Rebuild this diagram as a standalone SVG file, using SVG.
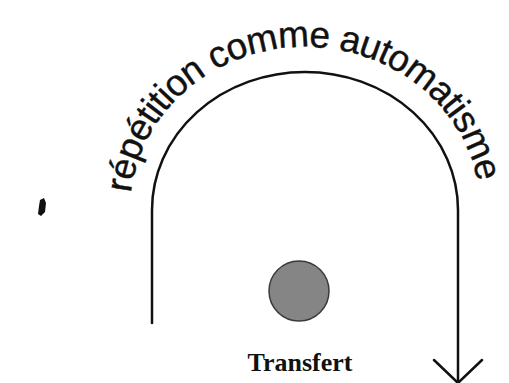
<svg xmlns="http://www.w3.org/2000/svg" width="509" height="383" viewBox="0 0 509 383">
<style>
.line{fill:none;stroke:#111;stroke-width:2.5;stroke-linecap:round;stroke-linejoin:round}
.arc-label{font-family:"Liberation Sans",Arial,sans-serif;font-size:37px;fill:#111;stroke:#111;stroke-width:0.4}
.node-label{font-family:"Liberation Serif","Times New Roman",serif;font-weight:bold;font-size:26px;fill:#111}
</style>
<defs>
<path id="textArc" d="M131,193 A175,163 0 0 1 478,185"/>
</defs>
<rect width="509" height="383" fill="#fff"/>
<g id="connectors">
<path class="line" d="M152,323 L152,210 A153,138 0 0 1 458,210 L458,382"/>
<path class="line" d="M434,360 L458,383 L482,360"/>
</g>
<g id="label-repetition">
<text class="arc-label"><textPath href="#textArc" textLength="486" lengthAdjust="spacing">répétition comme automatisme</textPath></text>
</g>
<g id="node-transfert">
<circle cx="299" cy="291" r="30" fill="#858585" stroke="#3a3a3a" stroke-width="1.5"/>
<text class="node-label" x="300" y="371" text-anchor="middle">Transfert</text>
</g>
<g id="speck">
<path d="M40,200 L44,198 L46,203 L45,212 L41,216 L38,214 L39,206 Z" fill="#111"/>
</g>
</svg>
